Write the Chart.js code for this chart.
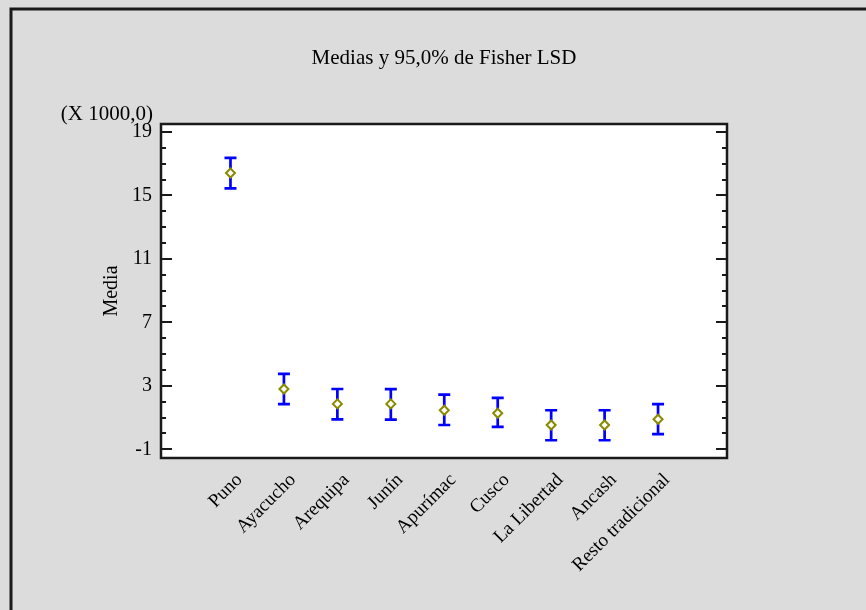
<!DOCTYPE html>
<html>
<head>
<meta charset="utf-8">
<script src="https://cdn.jsdelivr.net/npm/chart.js"></script>
<style>
  html, body { margin: 0; padding: 0; background: #dcdcdc; }
  #wrap { width: 866px; height: 610px; }
</style>
</head>
<body>
<div id="wrap"><canvas id="myChart"></canvas></div>
<script>
// Medias (X 1000,0) and 95% Fisher LSD limits
var regiones = ["Puno", "Ayacucho", "Arequipa", "Junín", "Apurímac", "Cusco", "La Libertad", "Ancash", "Resto tradicional"];
var medias   = [16.41, 2.80, 1.86, 1.86, 1.46, 1.27, 0.53, 0.53, 0.89];
var limSup   = [17.36, 3.75, 2.80, 2.79, 2.44, 2.24, 1.46, 1.46, 1.84];
var limInf   = [15.44, 1.84, 0.89, 0.87, 0.53, 0.41, -0.43, -0.43, -0.05];
var yTicks   = [-1, 3, 7, 11, 15, 19];

var serif = "'Liberation Serif', 'Times New Roman', serif";

// background, outer frame, white plot area
var fondo = {
  id: 'fondo',
  beforeDraw: function (chart) {
    var c = chart.ctx, a = chart.chartArea;
    c.save();
    c.fillStyle = '#dcdcdc';
    c.fillRect(0, 0, chart.width, chart.height);
    c.strokeStyle = '#1a1a1a';
    c.lineWidth = 3;
    c.strokeRect(11, 9, chart.width + 20, chart.height + 20);
    c.fillStyle = '#ffffff';
    c.fillRect(a.left, a.top, a.right - a.left, a.bottom - a.top);
    c.restore();
  }
};

// LSD intervals, drawn under the markers
var barras = {
  id: 'barras',
  beforeDatasetsDraw: function (chart) {
    var c = chart.ctx, sx = chart.scales.x, sy = chart.scales.y;
    c.save();
    c.strokeStyle = '#0000ff';
    c.lineWidth = 2.7;
    for (var i = 0; i < medias.length; i++) {
      var x = sx.getPixelForValue(i + 1);
      var y1 = sy.getPixelForValue(limSup[i]);
      var y2 = sy.getPixelForValue(limInf[i]);
      c.beginPath();
      c.moveTo(x, y1); c.lineTo(x, y2);
      c.moveTo(x - 6, y1); c.lineTo(x + 6, y1);
      c.moveTo(x - 6, y2); c.lineTo(x + 6, y2);
      c.stroke();
    }
    c.restore();
  }
};

// plot frame, inside ticks on both sides, titles
var marco = {
  id: 'marco',
  afterDraw: function (chart) {
    var c = chart.ctx, a = chart.chartArea, sy = chart.scales.y;
    c.save();
    c.strokeStyle = '#1a1a1a';
    c.lineWidth = 2;
    for (var v = yTicks[0]; v <= yTicks[yTicks.length - 1]; v++) {
      var y = Math.round(sy.getPixelForValue(v));
      var len = yTicks.indexOf(v) >= 0 ? 11 : 5;
      c.beginPath();
      c.moveTo(a.left, y); c.lineTo(a.left + len, y);
      c.moveTo(a.right, y); c.lineTo(a.right - len, y);
      c.stroke();
    }
    c.lineWidth = 2.5;
    c.strokeRect(a.left, a.top, a.right - a.left, a.bottom - a.top);

    c.fillStyle = '#000';
    c.font = '21px ' + serif;
    c.textAlign = 'center';
    c.textBaseline = 'middle';
    c.fillText('Medias y 95,0% de Fisher LSD', (a.left + a.right) / 2, 58);
    c.textAlign = 'right';
    c.fillText('(X 1000,0)', a.left - 8, 114);
    c.restore();
  }
};

var ctx = document.getElementById('myChart').getContext('2d');
var chart = new Chart(ctx, {
  type: 'scatter',
  data: {
    datasets: [{
      data: medias.map(function (m, i) { return { x: i + 1, y: m }; }),
      pointStyle: 'rectRot',
      pointRadius: 4.5,
      pointBorderWidth: 2,
      pointBorderColor: '#8a8a00',
      pointBackgroundColor: '#ffffff'
    }]
  },
  options: {
    responsive: true,
    maintainAspectRatio: false,
    animation: false,
    layout: { padding: { left: 100, right: 139, top: 124, bottom: 0 } },
    plugins: { legend: { display: false }, tooltip: { enabled: false } },
    scales: {
      x: {
        type: 'linear',
        min: -0.3,
        max: 10.29,
        afterBuildTicks: function (axis) {
          axis.ticks = regiones.map(function (r, i) { return { value: i + 1 }; });
        },
        afterFit: function (s) { s.height = 152; },
        grid: { display: false, drawTicks: false },
        border: { display: false },
        ticks: {
          autoSkip: false,
          minRotation: 45,
          maxRotation: 45,
          labelOffset: 9,
          padding: 11,
          color: '#000',
          font: { family: serif, size: 19 },
          callback: function (v, i) { return regiones[i]; }
        }
      },
      y: {
        min: -1.55,
        max: 19.5,
        afterBuildTicks: function (axis) {
          axis.ticks = yTicks.map(function (v) { return { value: v }; });
        },
        afterFit: function (s) { s.width = 61; },
        grid: { display: false, drawTicks: false },
        border: { display: false },
        title: { display: true, text: 'Media', color: '#000', padding: 0, font: { family: serif, size: 20 } },
        ticks: { padding: 9, color: '#000', font: { family: serif, size: 20 } }
      }
    }
  },
  plugins: [fondo, barras, marco]
});
</script>
</body>
</html>
